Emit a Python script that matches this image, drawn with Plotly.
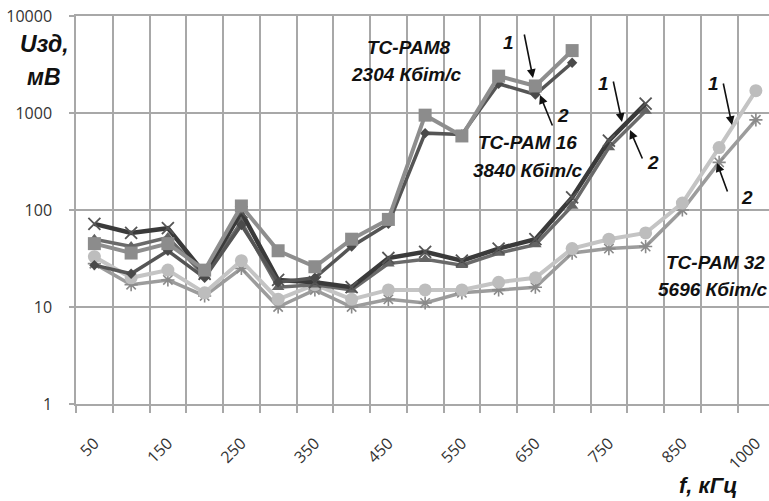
import plotly.graph_objects as go

# Frequency categories, kHz
freq_labels = ["50", "100", "150", "200", "250", "300", "350", "400", "450", "500",
               "550", "600", "650", "700", "750", "800", "850", "900", "1000"]

# Interference voltage, mV (curve 1 / curve 2 for each modulation)
pam8_1 = [45, 36, 45, 24, 110, 38, 26, 50, 80, 950, 580, 2400, 1900, 4400]
pam8_2 = [27, 22, 38, 20, 70, 18, 20, 42, 72, 620, 600, 2000, 1550, 3300]
pam16_1 = [72, 58, 65, 22, 95, 19, 18, 16, 32, 37, 30, 40, 50, 135, 520, 1250]
pam16_2 = [50, 42, 52, 21, 75, 16, 17, 15, 28, 31, 27, 36, 44, 110, 440, 1050]
pam32_1 = [33, 20, 24, 14, 30, 12, 17, 12, 15, 15, 15, 18, 20, 40, 50, 58, 118, 440, 1700]
pam32_2 = [28, 17, 19, 13, 25, 10, 15, 10, 12, 11, 14, 15, 16, 36, 40, 42, 100, 310, 850]

y_ticks = [1, 10, 100, 1000, 10000]

W, H = 769, 501
ML, MR, MT, MB = 76, 0, 16, 97
PW, PH = W - ML - MR, H - MT - MB
CAT_W = 36.75  # pixel width of one frequency category

GRID = "#a8a8a8"
TXT = "#333333"
LABEL_FONT = "Liberation Sans, Arial"


def idx(values):
    return list(range(len(values)))


fig = go.Figure()

series = [
    (pam32_2, "#9c9c9c", 3.5, dict(symbol="asterisk-open", size=11, color="#8a8a8a",
                                   line=dict(width=1.6, color="#8a8a8a"))),
    (pam32_1, "#c4c4c4", 4, dict(symbol="circle", size=13, color="#bdbdbd",
                                 line=dict(width=0))),
    (pam16_2, "#6a6a6a", 3.5, dict(symbol="triangle-up", size=11, color="#646464",
                                   line=dict(width=0))),
    (pam16_1, "#3a3a3a", 4.5, dict(symbol="x-thin-open", size=12, color="#555555",
                                   line=dict(width=1.8, color="#555555"))),
    (pam8_2, "#555555", 3.5, dict(symbol="diamond", size=8, color="#4a4a4a",
                                  line=dict(width=0))),
    (pam8_1, "#8e8e8e", 4, dict(symbol="square", size=13, color="#8c8c8c",
                                line=dict(width=0))),
]
for vals, col, lw, mk in series:
    fig.add_trace(go.Scatter(
        x=idx(vals), y=vals, mode="lines+markers",
        line=dict(color=col, width=lw), marker=mk,
        showlegend=False, hoverinfo="skip",
    ))


def paper(px, py):
    return (px - ML) / PW, (H - MB - py) / PH


annotations = []


def text_at(px, py, s, size=19, anchor="center"):
    x, y = paper(px, py)
    annotations.append(dict(
        x=x, y=y, xref="paper", yref="paper", text=s, showarrow=False,
        xanchor=anchor, yanchor="middle",
        font=dict(family=LABEL_FONT, size=size, color="#111111", weight="bold",
                  style="italic"),
    ))


def arrow(hx, hy, tx, ty):
    x, y = paper(hx, hy)
    annotations.append(dict(
        x=x, y=y, xref="paper", yref="paper", text="", showarrow=True,
        ax=tx - hx, ay=ty - hy, axref="pixel", ayref="pixel",
        arrowhead=2, arrowsize=1.1, arrowwidth=1.6, arrowcolor="#111111",
    ))


# Modulation captions
text_at(408, 47, "TC-PAM8", 19)
text_at(406, 74, "2304 Кбіт/с", 19)
text_at(527, 142, "TC-PAM 16", 19)
text_at(527, 170, "3840 Кбіт/с", 19)
text_at(664, 262, "TC-PAM 32", 19, "left")
text_at(656, 289, "5696 Кбіт/с", 19, "left")

# Curve markers 1 / 2
text_at(508, 43, "1", 19)
arrow(533, 78, 524, 33)
text_at(563, 115, "2", 19)
arrow(540, 95, 553, 127)

text_at(603, 83, "1", 19)
arrow(622, 122, 613, 80)
text_at(653, 162, "2", 19)
arrow(630, 130, 643, 160)

text_at(713, 83, "1", 19)
arrow(732, 125, 723, 82)
text_at(747, 197, "2", 19)
arrow(717, 163, 728, 193)

# Axis titles
text_at(44, 44, "Uзд,", 23)
text_at(44, 77, "мВ", 23)
text_at(708, 486, "f, кГц", 22)

fig.update_layout(
    width=W, height=H,
    margin=dict(l=ML, r=MR, t=MT, b=MB, pad=0),
    paper_bgcolor="white", plot_bgcolor="white",
    annotations=annotations,
    xaxis=dict(
        range=[-0.5, -0.5 + PW / CAT_W],
        tickmode="array",
        tickvals=list(range(0, len(freq_labels), 2)),
        ticktext=freq_labels[::2],
        tickangle=-45,
        ticks="", showgrid=False, zeroline=False,
        ticklabelstandoff=22,
        tickfont=dict(family="Open Sans, Liberation Sans", size=16, color=TXT),
        showline=True, linecolor=GRID, linewidth=1.5, mirror=True,
        minor=dict(tickmode="array",
                   tickvals=[i - 0.5 for i in range(len(freq_labels) + 1)],
                   showgrid=True, gridcolor=GRID, gridwidth=1.5,
                   ticks="outside", ticklen=7, tickcolor=GRID, tickwidth=1.5),
    ),
    yaxis=dict(
        type="log", range=[0, 4],
        tickmode="array", tickvals=y_ticks, ticktext=[str(v) for v in y_ticks],
        showgrid=True, gridcolor=GRID, gridwidth=1.5,
        ticks="outside", ticklen=5, tickcolor=GRID, tickwidth=1.5,
        ticklabelstandoff=14,
        tickfont=dict(family="Open Sans, Liberation Sans", size=16, color=TXT),
        showline=True, linecolor=GRID, linewidth=1.5, zeroline=False,
    ),
)

fig.write_html("out.html")
